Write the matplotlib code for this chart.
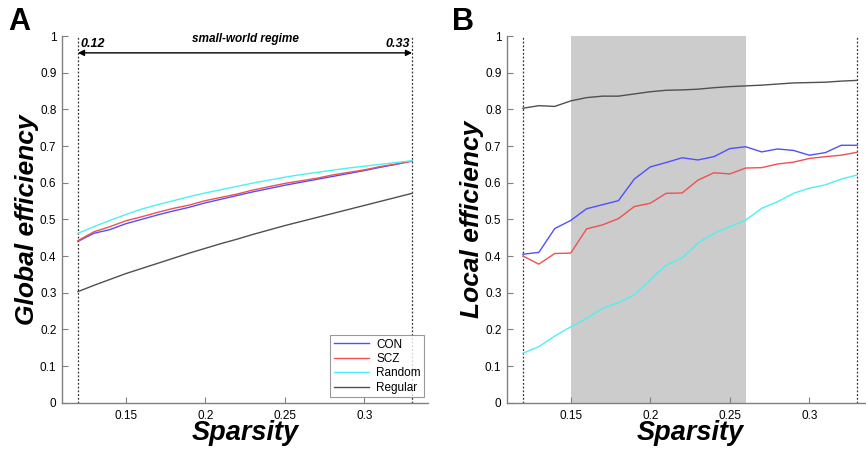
import numpy as np
import matplotlib
matplotlib.use("Agg")
import matplotlib.pyplot as plt

plt.rcParams["font.family"] = ["Liberation Sans", "DejaVu Sans"]

# ── Data ───────────────────────────────────────────────────────────────────────
sparsity = [0.12, 0.13, 0.14, 0.15, 0.16, 0.17, 0.18, 0.19, 0.20, 0.21, 0.22,
            0.23, 0.24, 0.25, 0.26, 0.27, 0.28, 0.29, 0.30, 0.31, 0.32, 0.33]

# Panel A: global efficiency
eg_con = [0.440, 0.462, 0.472, 0.488, 0.500, 0.512, 0.523, 0.533, 0.545, 0.555, 0.565,
          0.575, 0.584, 0.593, 0.601, 0.609, 0.617, 0.625, 0.633, 0.642, 0.650, 0.659]
eg_scz = [0.442, 0.466, 0.480, 0.496, 0.507, 0.519, 0.530, 0.539, 0.551, 0.560, 0.569,
          0.580, 0.589, 0.598, 0.605, 0.612, 0.621, 0.628, 0.635, 0.644, 0.651, 0.659]
eg_rand = [0.462, 0.480, 0.497, 0.513, 0.528, 0.540, 0.551, 0.562, 0.572, 0.581, 0.590,
           0.599, 0.607, 0.615, 0.622, 0.628, 0.634, 0.640, 0.645, 0.650, 0.655, 0.660]
eg_reg = [0.303, 0.320, 0.336, 0.352, 0.366, 0.380, 0.394, 0.408, 0.421, 0.434, 0.446,
          0.459, 0.471, 0.483, 0.494, 0.505, 0.516, 0.527, 0.538, 0.549, 0.560, 0.571]

# Panel B: local efficiency
el_con = [0.405, 0.410, 0.475, 0.497, 0.529, 0.540, 0.551, 0.610, 0.643, 0.655, 0.668,
          0.662, 0.671, 0.693, 0.698, 0.684, 0.692, 0.688, 0.675, 0.682, 0.702, 0.702]
el_scz = [0.400, 0.378, 0.407, 0.408, 0.474, 0.485, 0.502, 0.535, 0.544, 0.571, 0.572,
          0.607, 0.627, 0.624, 0.640, 0.641, 0.651, 0.656, 0.666, 0.671, 0.675, 0.683]
el_rand = [0.135, 0.153, 0.182, 0.207, 0.230, 0.257, 0.273, 0.294, 0.335, 0.375, 0.395,
           0.435, 0.462, 0.480, 0.498, 0.530, 0.548, 0.571, 0.585, 0.594, 0.610, 0.621]
el_reg = [0.803, 0.810, 0.808, 0.823, 0.832, 0.836, 0.836, 0.842, 0.848, 0.852, 0.853,
          0.855, 0.859, 0.862, 0.864, 0.866, 0.869, 0.872, 0.873, 0.874, 0.877, 0.879]

labels = ["CON", "SCZ", "Random", "Regular"]
sw_lo, sw_hi = 0.12, 0.33          # small-world regime bounds
shade_lo, shade_hi = 0.15, 0.26    # shaded range in panel B
xticks = [0.15, 0.2, 0.25, 0.3]
yticks = [0, 0.1, 0.2, 0.3, 0.4, 0.5, 0.6, 0.7, 0.8, 0.9, 1]

# ── Style ──────────────────────────────────────────────────────────────────────
COLORS = ["#5050ff", "#f05050", "#50f0f0", "#505050"]
C_AX = "#808080"

fig = plt.figure(figsize=(8.66, 4.5), dpi=100)
axA = fig.add_axes([0.0716, 0.105, 0.4226, 0.815])
axB = fig.add_axes([0.5855, 0.105, 0.4226, 0.815])


def style_axis(ax, ylabel):
    ax.set_xlim(0.11, 0.34)
    ax.set_ylim(0, 1)
    ax.set_xticks(xticks)
    ax.set_xticklabels([f"{t:g}" for t in xticks])
    ax.set_yticks(yticks)
    ax.set_yticklabels([f"{t:g}" for t in yticks])
    ax.tick_params(direction="in", length=4, width=0.8, color=C_AX,
                   labelsize=8.5, pad=4)
    ax.tick_params(axis="x", pad=5)
    for s in ["top", "right"]:
        ax.spines[s].set_visible(False)
    for s in ["left", "bottom"]:
        ax.spines[s].set_color(C_AX)
        ax.spines[s].set_linewidth(1.0)
    ax.set_xlabel("Sparsity", fontsize=19.5, fontweight="bold", style="italic",
                  labelpad=-1)
    ax.set_ylabel(ylabel, fontsize=19, fontweight="bold", style="italic",
                  labelpad=0.5)
    for xv in (sw_lo, sw_hi):
        ax.axvline(xv, ymin=0, ymax=1, color="#333333", lw=0.9,
                   ls=(0, (1.5, 1.5)), zorder=1)


# ── Panel A ────────────────────────────────────────────────────────────────────
for series, col, lab in zip([eg_con, eg_scz, eg_rand, eg_reg], COLORS, labels):
    axA.plot(sparsity, series, color=col, lw=1.0, label=lab, zorder=3)
style_axis(axA, "Global efficiency")

axA.annotate("", xy=(sw_lo, 0.954), xytext=(sw_hi, 0.954),
             arrowprops=dict(arrowstyle="<|-|>", color="black", lw=1.0,
                             mutation_scale=9, shrinkA=0, shrinkB=0))
axA.text((sw_lo + sw_hi) / 2, 0.993, "small-world regime", ha="center",
         va="center", fontsize=8.5, fontweight="bold", style="italic")
axA.text(sw_lo + 0.0015, 0.978, f"{sw_lo:g}", ha="left", va="center",
         fontsize=9, fontweight="bold", style="italic")
axA.text(sw_hi - 0.0015, 0.978, f"{sw_hi:g}", ha="right", va="center",
         fontsize=9, fontweight="bold", style="italic")

leg = axA.legend(loc="lower right", bbox_to_anchor=(0.99, 0.015), fontsize=8.5,
                 frameon=True, fancybox=False, edgecolor="#808080",
                 handlelength=3.0, borderpad=0.3, labelspacing=0.2,
                 handletextpad=0.6, borderaxespad=0)
leg.get_frame().set_linewidth(0.8)

# ── Panel B ────────────────────────────────────────────────────────────────────
axB.axvspan(shade_lo, shade_hi, ymin=0, ymax=1, color="#cccccc", lw=0, zorder=0)
for series, col in zip([el_con, el_scz, el_rand, el_reg], COLORS):
    axB.plot(sparsity, series, color=col, lw=1.0, zorder=3)
style_axis(axB, "Local efficiency")

# ── Panel letters ──────────────────────────────────────────────────────────────
fig.text(0.010, 0.985, "A", fontsize=22, fontweight="bold", va="top", ha="left")
fig.text(0.522, 0.985, "B", fontsize=22, fontweight="bold", va="top", ha="left")

fig.savefig("out.png", dpi=100)
